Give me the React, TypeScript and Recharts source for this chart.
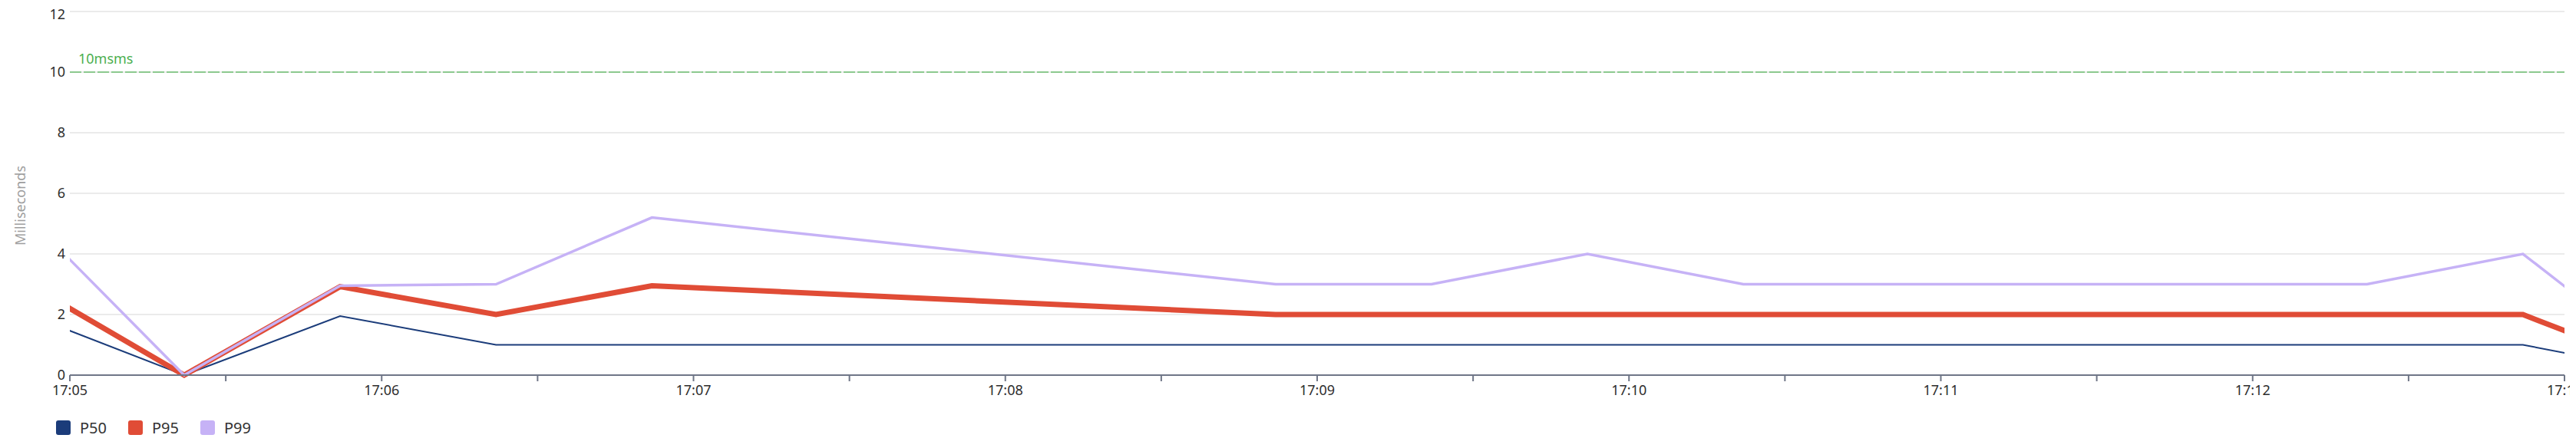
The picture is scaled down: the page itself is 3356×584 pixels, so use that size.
import React from "react"
import {
  CartesianGrid,
  Legend,
  Line,
  LineChart,
  ReferenceLine,
  XAxis,
  YAxis,
} from "recharts"

// sample times (HH:MM:SS), the first and last fall just outside the visible window
const times = [
  "17:04:52", "17:05:22", "17:05:52", "17:06:22", "17:06:52",
  "17:08:52", "17:09:22", "17:09:52", "17:10:22", "17:10:52",
  "17:11:22", "17:11:52", "17:12:22", "17:12:52", "17:13:22",
]
const p50 = [2, 0, 1.95, 1, 1, 1, 1, 1, 1, 1, 1, 1, 1, 1, 0]
const p95 = [3, 0, 2.92, 2, 2.95, 2, 2, 2, 2, 2, 2, 2, 2, 2, 0]
const p99 = [5.2, 0, 2.95, 3, 5.2, 3, 3, 4, 3, 3, 3, 3, 3, 4, 0]

const xTicks = [
  "17:05:00", "17:05:30", "17:06:00", "17:06:30", "17:07:00", "17:07:30",
  "17:08:00", "17:08:30", "17:09:00", "17:09:30", "17:10:00", "17:10:30",
  "17:11:00", "17:11:30", "17:12:00", "17:12:30", "17:13:00",
]
const yTicks = [0, 2, 4, 6, 8, 10, 12]

const threshold = 10
const thresholdLabel = "10msms"

const series = [
  { key: "p50", name: "P50", color: "#1b3c7a", width: 2 },
  { key: "p95", name: "P95", color: "#e04c36", width: 7 },
  { key: "p99", name: "P99", color: "#c6b2f6", width: 3.5 },
]

const FONT = "'Noto Sans', sans-serif"

function toSec(t: string) {
  const [h, m, s] = t.split(":").map(Number)
  return h * 3600 + m * 60 + s
}

function fmt(sec: number) {
  if (sec % 60 !== 0) return ""
  const h = Math.floor(sec / 3600)
  const m = Math.floor((sec % 3600) / 60)
  return `${h}:${String(m).padStart(2, "0")}`
}

const data = times.map((t, i) => ({
  t: toSec(t),
  p50: p50[i],
  p95: p95[i],
  p99: p99[i],
}))

const tickSecs = xTicks.map(toSec)

function LegendContent() {
  return (
    <div style={{ display: "flex", height: 38, alignItems: "center", fontFamily: FONT }}>
      {series.map((s) => (
        <div key={s.key} style={{ display: "flex", alignItems: "center", width: 94 }}>
          <span
            style={{
              display: "inline-block",
              width: 19,
              height: 19,
              borderRadius: 3,
              background: s.color,
              marginRight: 12,
            }}
          />
          <span style={{ fontSize: 20, color: "#333" }}>{s.name}</span>
        </div>
      ))}
    </div>
  )
}

export default function App() {
  return (
    <LineChart
      width={3340}
      height={568}
      data={data}
      margin={{ top: 7, right: 7, left: 0, bottom: 0 }}
      style={{ fontFamily: FONT }}
    >
      <CartesianGrid vertical={false} stroke="#ebebeb" strokeWidth={2} />
      <XAxis
        dataKey="t"
        type="number"
        domain={[tickSecs[0], tickSecs[tickSecs.length - 1]]}
        allowDataOverflow
        ticks={tickSecs}
        interval={0}
        tickFormatter={fmt}
        height={49}
        tickSize={8}
        tickMargin={5}
        stroke="#6f7687"
        strokeWidth={2}
        tick={{ fill: "#2e2e2e", fontSize: 18 }}
      />
      <YAxis
        domain={[0, 12]}
        ticks={yTicks}
        width={83}
        axisLine={false}
        tickLine={false}
        tickSize={4}
        tickMargin={2}
        tick={{ fill: "#2e2e2e", fontSize: 18 }}
        label={{
          content: ({ viewBox }: any) => {
            const x = viewBox.x + 25
            const y = viewBox.y + viewBox.height / 2 + 16
            return (
              <text
                x={x}
                y={y}
                transform={`rotate(-90, ${x}, ${y})`}
                textAnchor="middle"
                fill="#9e9e9e"
                fontSize={18}
              >
                Milliseconds
              </text>
            )
          },
        }}
      />
      <ReferenceLine
        y={threshold}
        stroke="#8cc98f"
        strokeWidth={2}
        strokeDasharray="15 3"
        label={{
          content: ({ viewBox }: any) => (
            <text x={viewBox.x + 11} y={viewBox.y - 11} fill="#4caf50" fontSize={18}>
              {thresholdLabel}
            </text>
          ),
        }}
      />
      {series.map((s) => (
        <Line
          key={s.key}
          type="linear"
          dataKey={s.key}
          name={s.name}
          stroke={s.color}
          strokeWidth={s.width}
          dot={false}
          activeDot={false}
          isAnimationActive={false}
        />
      ))}
      <Legend
        verticalAlign="bottom"
        align="left"
        content={<LegendContent />}
        wrapperStyle={{ left: 65, width: 400 }}
      />
    </LineChart>
  )
}
